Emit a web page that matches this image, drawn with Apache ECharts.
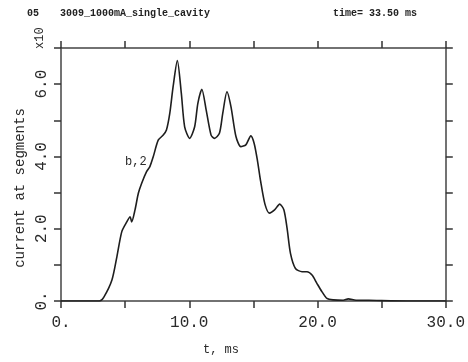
<!DOCTYPE html>
<html>
<head>
<meta charset="utf-8">
<script src="https://cdn.jsdelivr.net/npm/echarts@6/dist/echarts.min.js"></script>
<style>
  html, body { margin: 0; padding: 0; background: #fff; }
  #chart { width: 468px; height: 362px; }
</style>
</head>
<body>
<div id="chart"></div>
<script>
// Time axis (ms) and summed segment current (units of 10^5)
const timeMs = [0, 2.0, 3.0, 3.33, 3.97, 4.36, 4.74, 5.13, 5.39, 5.51, 5.77, 6.03, 6.29, 6.67, 6.93,
  7.19, 7.58, 7.97, 8.22, 8.48, 8.74, 9.07, 9.38, 9.64, 10.03, 10.42, 10.67, 10.98, 11.32,
  11.70, 11.96, 12.35, 12.61, 12.94, 13.25, 13.64, 14.02, 14.41, 14.80, 15.06, 15.31, 15.57,
  15.90, 16.25, 16.65, 17.05, 17.38, 17.63, 17.89, 18.28, 18.79, 19.18, 19.57, 19.95, 20.34,
  20.73, 21.24, 22.0, 22.4, 23.0, 24.0, 25.0, 27.0, 30.0];
const current = [0, 0, 0, 0.10, 0.58, 1.23, 1.92, 2.19, 2.33, 2.19, 2.52, 2.98, 3.26, 3.58, 3.72,
  3.99, 4.45, 4.59, 4.73, 5.19, 5.93, 6.65, 5.75, 4.82, 4.50, 4.82, 5.47, 5.86, 5.28,
  4.59, 4.50, 4.64, 5.19, 5.79, 5.38, 4.55, 4.27, 4.32, 4.57, 4.36, 3.90, 3.30,
  2.68, 2.43, 2.52, 2.68, 2.52, 2.00, 1.32, 0.90, 0.81, 0.81, 0.72, 0.49, 0.26,
  0.07, 0.03, 0.02, 0.06, 0.02, 0.02, 0.01, 0, 0];

// Axis ranges; labels only on every other tick
const xTicks = { min: 0, max: 30, step: 5, labelStep: 10 };
const yTicks = { min: 0, max: 7, step: 1, labelStep: 2 };

const headerTag = '05';
const headerLeft = '3009_1000mA_single_cavity';
const headerRight = 'time= 33.50 ms';
const yTitle = 'current at segments';
const yScale = 'x10';
const xTitle = 't, ms';
const curveTag = 'b,2';

const ink = '#2a2a2a';
const mono = '"Liberation Mono", "DejaVu Sans Mono", monospace';
const fmtEvery = step => v => {
  if (Math.abs(v / step - Math.round(v / step)) > 1e-6) return '';
  return v === 0 ? '0.' : v.toFixed(1);
};

const chart = echarts.init(document.getElementById('chart'));

const frameAxis = (pos, labels) => ({
  position: pos,
  axisLine: { show: true, onZero: false, lineStyle: { color: '#444', width: 1.5 } },
  axisTick: { show: true, length: 7, lineStyle: { color: '#333', width: 1.5 } },
  splitLine: { show: false },
  axisLabel: labels
});

chart.setOption({
  animation: false,
  backgroundColor: '#fff',
  grid: { left: 61, right: 18, top: 48, bottom: 61 },
  xAxis: [
    Object.assign({
      type: 'value', min: xTicks.min, max: xTicks.max, interval: xTicks.step
    }, frameAxis('bottom', {
      show: true, formatter: fmtEvery(xTicks.labelStep), margin: 14,
      fontFamily: mono, fontSize: 16, color: ink
    })),
    Object.assign({
      type: 'value', min: xTicks.min, max: xTicks.max, interval: xTicks.step
    }, frameAxis('top', { show: false }))
  ],
  yAxis: [
    Object.assign({
      type: 'value', min: yTicks.min, max: yTicks.max, interval: yTicks.step
    }, frameAxis('left', {
      show: true, formatter: fmtEvery(yTicks.labelStep), rotate: 90, margin: 11,
      fontFamily: mono, fontSize: 16, color: ink
    })),
    Object.assign({
      type: 'value', min: yTicks.min, max: yTicks.max, interval: yTicks.step
    }, frameAxis('right', { show: false }))
  ],
  series: [{
    type: 'line',
    data: timeMs.map((t, i) => [t, current[i]]),
    xAxisIndex: 0, yAxisIndex: 0,
    showSymbol: false,
    smooth: 0.25,
    lineStyle: { color: '#1e1e1e', width: 1.6 },
    z: 3
  }],
  graphic: [
    { type: 'text', left: 27, top: 8, style: { text: headerTag, font: 'bold 10px ' + mono, fill: '#222' } },
    { type: 'text', left: 60, top: 8, style: { text: headerLeft, font: 'bold 10px ' + mono, fill: '#222' } },
    { type: 'text', left: 333, top: 8, style: { text: headerRight, font: 'bold 10px ' + mono, fill: '#222' } },
    { type: 'text', x: 40, y: 49, rotation: Math.PI / 2,
      style: { text: yScale, font: '12px ' + mono, fill: ink, align: 'left', verticalAlign: 'middle' } },
    { type: 'text', x: 20, y: 188, rotation: Math.PI / 2,
      style: { text: yTitle, font: '14px ' + mono, fill: ink, align: 'center', verticalAlign: 'middle' } },
    { type: 'text', x: 221, y: 350,
      style: { text: xTitle, font: '12px ' + mono, fill: ink, align: 'center', verticalAlign: 'middle' } },
    { type: 'text', left: 125, top: 156, style: { text: curveTag, font: '12px ' + mono, fill: ink } }
  ]
});
</script>
</body>
</html>
